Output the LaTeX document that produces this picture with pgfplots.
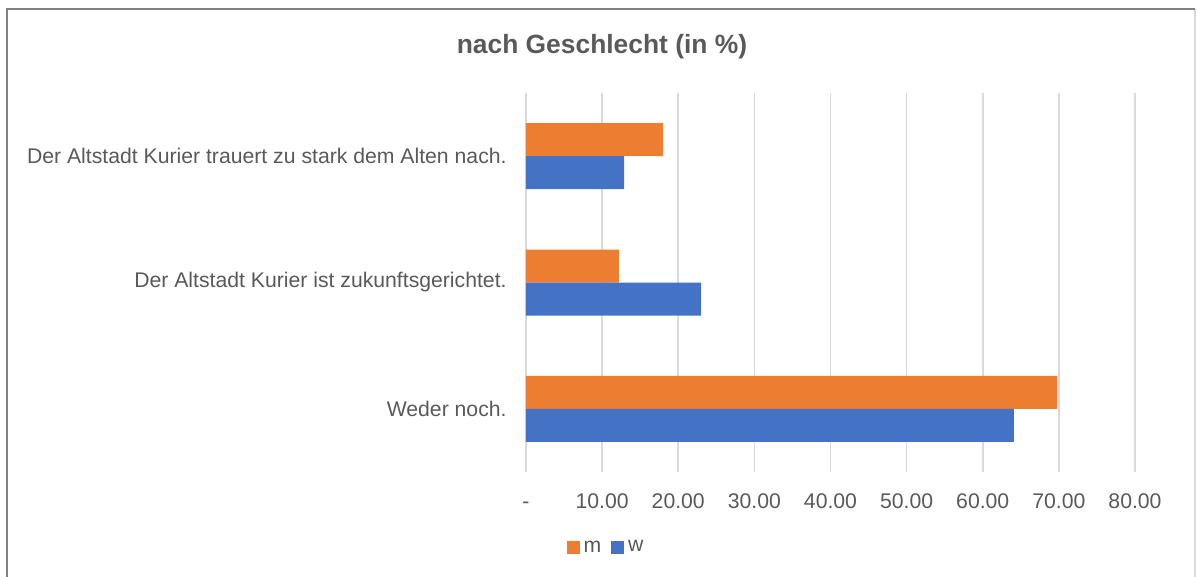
\documentclass[border=0pt]{standalone}
\usepackage{fontspec}
\setmainfont{Liberation Sans}
\usepackage{pgfplots}
\pgfplotsset{compat=1.18}
\definecolor{cOrange}{HTML}{ED7D31}
\definecolor{cBlue}{HTML}{4472C4}
\definecolor{cText}{HTML}{595959}
\definecolor{cGrid}{HTML}{D9D9D9}
\begin{document}
\begin{tikzpicture}
% picture coordinates in px of the reference: (X,Y), 1px = 0.5pt, axis origin at X=526, Y=472
\begin{scope}[x=0.5pt, y=-0.5pt, shift={(-263pt,236pt)}]
  \useasboundingbox (0,0) rectangle (1197,577);
  \draw[color=cGrid, line width=1pt] (1195,9) -- (1195,600);
  \draw[color=gray, line width=1.2pt] (7,600) -- (7,9) -- (1195,9);
  \node[font=\fontsize{13.2pt}{15pt}\selectfont\bfseries, text=cText] at (602,47) {nach Geschlecht (in \%)};
\end{scope}
\begin{axis}[
    at={(0,0)}, anchor=south west,
    scale only axis, width=304.5pt, height=189.5pt,
    xmin=0, xmax=80, ymin=-0.5, ymax=2.5,
    axis line style={draw=none},
    xtick={0,10,...,80},
    xticklabels={-,10.00,20.00,30.00,40.00,50.00,60.00,70.00,80.00},
    ytick={0,1,2},
    yticklabels={Weder noch.,Der Altstadt Kurier ist zukunftsgerichtet.,Der Altstadt Kurier trauert zu stark dem Alten nach.},
    major tick length=0pt,
    xmajorgrids, major grid style={color=cGrid, line width=0.8pt},
    tick label style={font=\fontsize{10.6pt}{12pt}\selectfont, text=cText},
    xticklabel style={anchor=base, inner sep=0pt, yshift=-18pt},
    yticklabel style={anchor=east, inner sep=0pt, xshift=-9.5pt},
    legend style={at={(rel axis cs:0.133,-0.2)}, anchor=center, draw=none, fill=none,
      font=\fontsize{10.6pt}{12pt}\selectfont, text=cText, legend columns=2,
      /tikz/every even column/.append style={column sep=3pt}},
    legend image code/.code={\fill[#1] (0pt,-3.25pt) rectangle (6.5pt,3.25pt);},
]
\addplot[xbar, bar width=16.5pt, bar shift=8.25pt, fill=cOrange, draw=none]
  coordinates {(69.8,0) (12.2,1) (18.0,2)};
\addlegendentry{m}
\addplot[xbar, bar width=16.5pt, bar shift=-8.25pt, fill=cBlue, draw=none]
  coordinates {(64.1,0) (23.0,1) (12.9,2)};
\addlegendentry{w}
\end{axis}
\end{tikzpicture}
\end{document}
